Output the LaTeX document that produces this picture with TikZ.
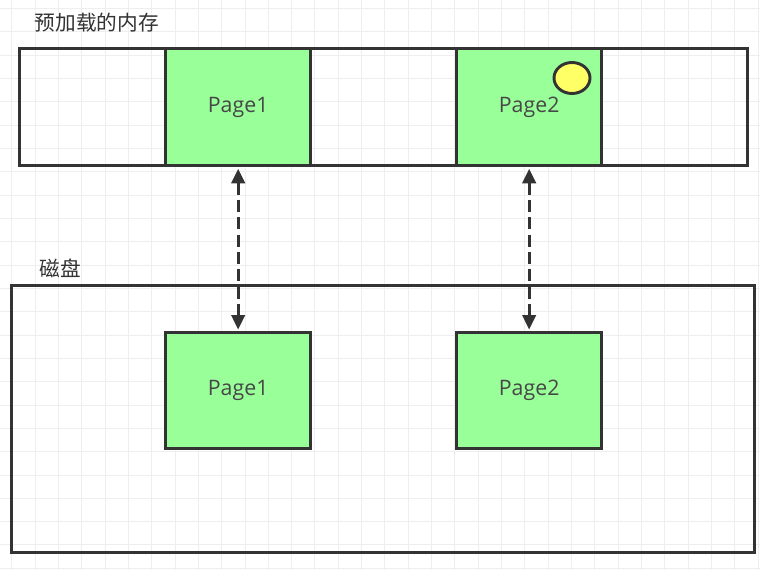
\documentclass[tikz,border=0pt]{standalone}
\usepackage{fontspec}
\setmainfont{Open Sans}
\newfontfamily\cjk{Noto Sans CJK SC}
\usetikzlibrary{arrows.meta,shapes.geometric}
\definecolor{pagegreen}{HTML}{99FF99}
\definecolor{edge}{HTML}{333333}
\definecolor{gridc}{HTML}{EEEEEE}
\definecolor{dotyellow}{HTML}{FFFF66}
\tikzset{
  box/.style={draw=edge, line width=2.5pt, inner sep=0pt, anchor=north west},
  cell/.style={box, fill=pagegreen, font=\fontsize{16}{18}\selectfont, text=edge!90!white},
  title/.style={font=\cjk\fontsize{15.5}{18}\selectfont, text=edge, anchor=west},
  link/.style={draw=edge, line width=2.4pt, dash pattern=on 9pt off 4pt, {Triangle[length=11pt,width=10pt]}-{Triangle[length=11pt,width=10pt]}, shorten <=1pt, shorten >=1pt}
}
\begin{document}
\begin{tikzpicture}[x=0.75pt,y=-0.75pt]
\fill[white] (0,0) rectangle (760,570);
\useasboundingbox (0,0) rectangle (760,570);
% grid
\foreach \i in {0,...,32} {\draw[gridc, line width=0.6pt] ({11.6+23.33*\i},0) -- ({11.6+23.33*\i},570);}
\foreach \i in {0,...,24} {\draw[gridc, line width=0.6pt] (0,{8.3+23.33*\i}) -- (760,{8.3+23.33*\i});}
% labels
\node[title] (memlabel) at (30,23) {预加载的内存};
\node[title] (disklabel) at (35,268) {磁盘};
% memory strip
\node[box, minimum width=146*0.75pt, minimum height=117*0.75pt] (m0) at (18,47) {};
\node[cell, minimum width=145*0.75pt, minimum height=117*0.75pt] (m1) at (164,47) {Page1};
\node[box, minimum width=146*0.75pt, minimum height=117*0.75pt] (m2) at (309,47) {};
\node[cell, minimum width=145*0.75pt, minimum height=117*0.75pt] (m3) at (455,47) {Page2};
\node[box, minimum width=146*0.75pt, minimum height=117*0.75pt] (m4) at (600,47) {};
\node[draw=edge, line width=2.2pt, fill=dotyellow, ellipse, minimum width=36*0.75pt, minimum height=31*0.75pt, inner sep=0pt] (dot) at (572,78) {};
% disk
\node[box, minimum width=743*0.75pt, minimum height=267*0.75pt] (disk) at (10,284) {};
\node[cell, minimum width=145*0.75pt, minimum height=116*0.75pt] (d1) at (164,331) {Page1};
\node[cell, minimum width=145*0.75pt, minimum height=116*0.75pt] (d2) at (455,331) {Page2};
% links
\draw[link] (m1.south) -- (d1.north);
\draw[link] (m3.south) -- (d2.north);
\end{tikzpicture}
\end{document}
